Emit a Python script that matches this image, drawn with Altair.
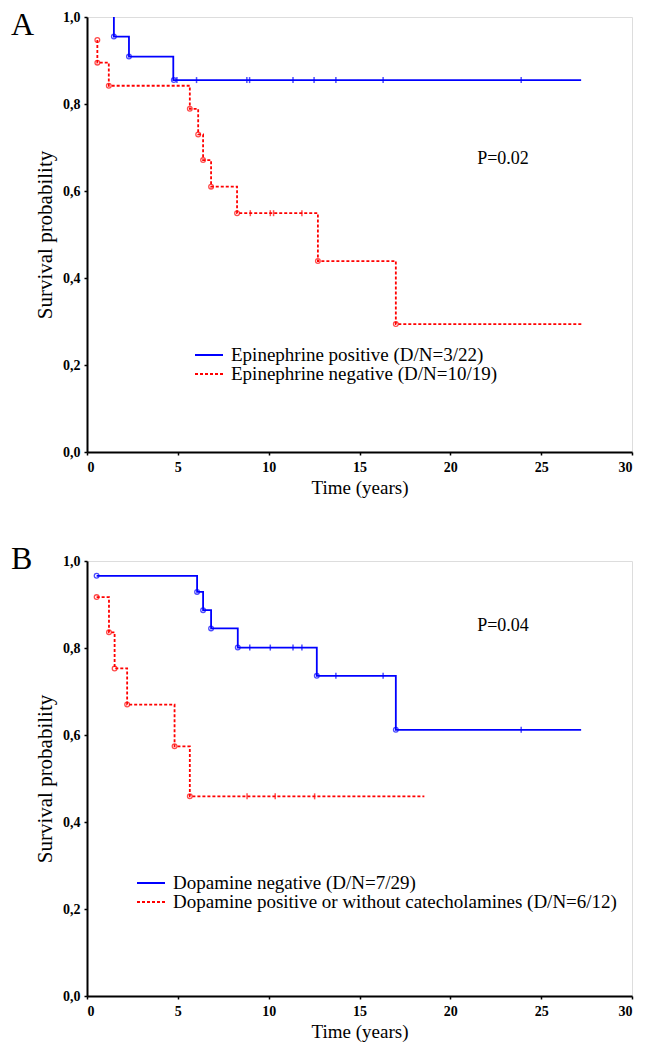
import altair as alt
import pandas as pd

X_TICKS = [0, 5, 10, 15, 20, 25, 30]
Y_TICKS = [0.0, 0.2, 0.4, 0.6, 0.8, 1.0]

# ---------------- Panel A ----------------
A_SERIES = ["Epinephrine positive (D/N=3/22)", "Epinephrine negative (D/N=10/19)"]
A_P_TEXT = "P=0.02"
A_P_X = 22.9
A_P_Y = 0.674

A_POS_TIME = [1.48, 1.48, 2.31, 4.75, 27.2]
A_POS_SURV = [1.0, 0.955, 0.909, 0.855, 0.855]
A_POS_EVENT_TIME = [1.48, 2.31, 4.78]
A_POS_EVENT_SURV = [0.955, 0.909, 0.855]
A_POS_CENS_TIME = [4.95, 6.03, 8.8, 8.95, 11.34, 12.5, 13.7, 16.3, 23.9]
A_POS_CENS_SURV = [0.855, 0.855, 0.855, 0.855, 0.855, 0.855, 0.855, 0.855, 0.855]

A_NEG_TIME = [0.57, 0.57, 1.2, 5.66, 6.12, 6.39, 6.83, 8.26, 12.71, 17.0, 27.25]
A_NEG_SURV = [0.947, 0.895, 0.842, 0.789, 0.73, 0.671, 0.61, 0.549, 0.439, 0.294, 0.294]
A_NEG_EVENT_TIME = [0.57, 0.57, 1.2, 5.66, 6.12, 6.39, 6.83, 8.26, 12.71, 17.0]
A_NEG_EVENT_SURV = [0.947, 0.895, 0.842, 0.789, 0.73, 0.671, 0.61, 0.549, 0.439, 0.294]
A_NEG_CENS_TIME = [8.99, 10.09, 10.27, 11.83]
A_NEG_CENS_SURV = [0.549, 0.549, 0.549, 0.549]

# ---------------- Panel B ----------------
B_SERIES = ["Dopamine negative (D/N=7/29)",
            "Dopamine positive or without catecholamines (D/N=6/12)"]
B_P_TEXT = "P=0.04"
B_P_X = 22.9
B_P_Y = 0.85

B_NEG_TIME = [0.53, 6.06, 6.39, 6.83, 8.3, 12.65, 17.0, 27.2]
B_NEG_SURV = [0.966, 0.929, 0.887, 0.845, 0.801, 0.736, 0.612, 0.612]
B_NEG_EVENT_TIME = [0.53, 6.06, 6.39, 6.83, 8.3, 12.65, 17.0]
B_NEG_EVENT_SURV = [0.966, 0.929, 0.887, 0.845, 0.801, 0.736, 0.612]
B_NEG_CENS_TIME = [8.96, 10.09, 11.34, 11.83, 13.7, 16.3, 23.9]
B_NEG_CENS_SURV = [0.801, 0.801, 0.801, 0.801, 0.736, 0.736, 0.612]

B_POS_TIME = [0.53, 1.21, 1.52, 2.21, 4.82, 5.66, 18.57]
B_POS_SURV = [0.917, 0.836, 0.753, 0.670, 0.574, 0.459, 0.459]
B_POS_EVENT_TIME = [0.53, 1.21, 1.52, 2.21, 4.82, 5.66]
B_POS_EVENT_SURV = [0.917, 0.836, 0.753, 0.670, 0.574, 0.459]
B_POS_CENS_TIME = [8.81, 10.36, 12.53]
B_POS_CENS_SURV = [0.459, 0.459, 0.459]

COLORS = ["#0000ff", "#ff0000"]
DASHES = [[1, 0], [3, 2]]
FONT = "Times New Roman, Liberation Serif, serif"
W, H = 545, 435


def frame(series_name, times, survs):
    return pd.DataFrame({"t": times, "s": survs, "series": series_name,
                         "i": list(range(len(times)))})


def panel(series, curves, events, censors, p_text, p_x, p_y, letter,
          letter_x, letter_y, leg_x, leg_y):
    lines_df = pd.concat([frame(series[k], *curves[k]) for k in range(2)])
    ev_df = pd.concat([frame(series[k], *events[k]) for k in range(2)])
    ce_df = pd.concat([frame(series[k], *censors[k]) for k in range(2)])

    xsc = alt.Scale(domain=[0, 30], nice=False, zero=False)
    ysc = alt.Scale(domain=[0, 1], nice=False)
    x_axis = alt.Axis(values=X_TICKS, grid=False, format="d",
                      domainColor="black", domainWidth=2, tickColor="black",
                      tickSize=3, tickWidth=1.5,
                      labelFont=FONT, labelFontSize=14, labelFontWeight="bold",
                      labelColor="black", labelPadding=5,
                      titleFont=FONT, titleFontSize=19, titleFontWeight="normal",
                      titleColor="black", titlePadding=4)
    y_axis = alt.Axis(values=Y_TICKS, grid=False,
                      labelExpr="replace(format(datum.value, '.1f'), '.', ',')",
                      domainColor="black", domainWidth=2, tickColor="black",
                      tickSize=3, tickWidth=1.5,
                      labelFont=FONT, labelFontSize=14, labelFontWeight="bold",
                      labelColor="black", labelPadding=4,
                      titleFont=FONT, titleFontSize=21, titleFontWeight="normal",
                      titleColor="black", titlePadding=7)
    X = alt.X("t:Q", scale=xsc, axis=x_axis, title="Time (years)")
    Y = alt.Y("s:Q", scale=ysc, axis=y_axis, title="Survival probability")

    legend = alt.Legend(orient="none", legendX=leg_x, legendY=leg_y,
                        title=None, symbolType="stroke", symbolSize=784,
                        symbolStrokeWidth=2, labelFont=FONT, labelFontSize=19,
                        labelColor="black", labelLimit=800, labelOffset=7,
                        clipHeight=18, rowPadding=0, padding=0)
    color = alt.Color("series:N", scale=alt.Scale(domain=series, range=COLORS),
                      legend=legend, title=None)
    dash = alt.StrokeDash("series:N", scale=alt.Scale(domain=series, range=DASHES),
                          legend=legend, title=None)
    color_nl = alt.Color("series:N", scale=alt.Scale(domain=series, range=COLORS),
                         legend=None)

    lines = alt.Chart(lines_df).mark_line(interpolate="step-after", strokeWidth=1.8).encode(
        x=X, y=Y, color=color, strokeDash=dash, order=alt.Order("i:Q"))
    pts = alt.Chart(ev_df).mark_point(shape="circle", filled=False, size=22,
                                      strokeWidth=1.3).encode(
        x=alt.X("t:Q", scale=xsc), y=alt.Y("s:Q", scale=ysc), color=color_nl)
    ticks = alt.Chart(ce_df).mark_tick(orient="vertical", size=6, thickness=1.5).encode(
        x=alt.X("t:Q", scale=xsc), y=alt.Y("s:Q", scale=ysc), color=color_nl)
    ptxt = alt.Chart(pd.DataFrame({"x": [p_x], "y": [p_y], "label": [p_text]})).mark_text(
        font=FONT, fontSize=18, color="black", align="center", baseline="middle").encode(
        x=alt.X("x:Q", scale=xsc), y=alt.Y("y:Q", scale=ysc), text="label:N")
    ltxt = alt.Chart(pd.DataFrame({"label": [letter]})).mark_text(
        font=FONT, fontSize=32, color="black", align="left", baseline="top").encode(
        x=alt.value(letter_x), y=alt.value(letter_y), text="label:N")

    return alt.layer(lines, pts, ticks, ptxt, ltxt).properties(width=W, height=H)


chart_a = panel(
    A_SERIES,
    [(A_POS_TIME, A_POS_SURV), (A_NEG_TIME, A_NEG_SURV)],
    [(A_POS_EVENT_TIME, A_POS_EVENT_SURV), (A_NEG_EVENT_TIME, A_NEG_EVENT_SURV)],
    [(A_POS_CENS_TIME, A_POS_CENS_SURV), (A_NEG_CENS_TIME, A_NEG_CENS_SURV)],
    A_P_TEXT, A_P_X, A_P_Y, "A", -76, -7, 107, 329)

chart_b = panel(
    B_SERIES,
    [(B_NEG_TIME, B_NEG_SURV), (B_POS_TIME, B_POS_SURV)],
    [(B_NEG_EVENT_TIME, B_NEG_EVENT_SURV), (B_POS_EVENT_TIME, B_POS_EVENT_SURV)],
    [(B_NEG_CENS_TIME, B_NEG_CENS_SURV), (B_POS_CENS_TIME, B_POS_CENS_SURV)],
    B_P_TEXT, B_P_X, B_P_Y, "B", -76, -17, 49, 313)

chart = alt.vconcat(chart_a, chart_b, spacing=44).resolve_scale(
    color="independent", strokeDash="independent"
).resolve_legend(color="independent", strokeDash="independent").properties(
    padding={"left": 2, "top": 0, "right": 5, "bottom": 5}
).configure_view(strokeWidth=0).configure(background="white")

chart.save("out.html", embed_options={"renderer": "svg", "actions": False})
